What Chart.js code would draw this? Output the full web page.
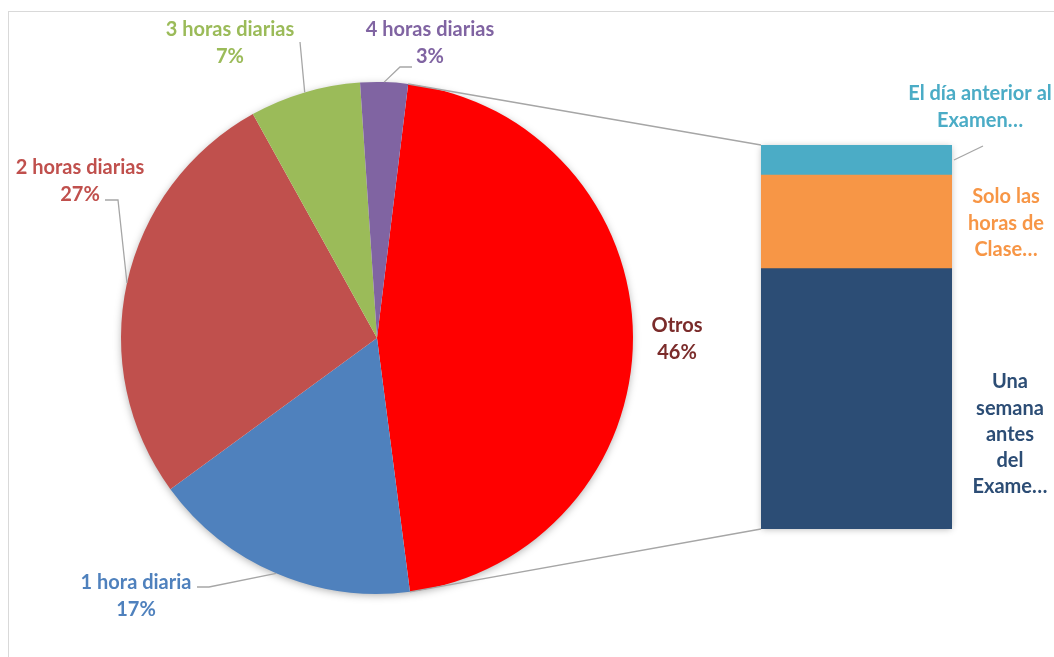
<!DOCTYPE html>
<html lang="es">
<head>
<meta charset="utf-8">
<title>Horas de estudio</title>
<script src="https://cdn.jsdelivr.net/npm/chart.js@4.4.1/dist/chart.umd.min.js"></script>
<style>
  html, body { margin: 0; padding: 0; background: #fff; }
  #stage { position: relative; width: 1054px; height: 657px; overflow: hidden; }
  #frame { position: absolute; left: 8px; top: 11px; right: -4px; bottom: -4px;
           border-top: 1px solid #d9d9d9; border-left: 1px solid #d9d9d9; }
  canvas { position: absolute; left: 0; top: 0; }
</style>
</head>
<body>
<div id="stage">
  <div id="frame"></div>
  <canvas id="pie" width="1054" height="657"></canvas>
  <canvas id="bar" width="1054" height="657"></canvas>
</div>
<script>
// porcentajes del circulo
const pieLabels = ['Otros', '1 hora diaria', '2 horas diarias', '3 horas diarias', '4 horas diarias'];
const pieValues = [46, 17, 27, 7, 3];
const pieColors = ['#FF0000', '#4F81BD', '#C0504D', '#9BBB59', '#8064A2'];
const pieTextColors = ['#7B2C2B', '#4F81BD', '#C0504D', '#9BBB59', '#8064A2'];

// desglose de "Otros", de abajo hacia arriba
const barLabels = ['Una semana antes del Examen', 'Solo las horas de Clase', 'El día anterior al Examen'];
const barValues = [31.2, 11.2, 3.6];
const barColors = ['#2C4D75', '#F79646', '#4BACC6'];
// texto recortado tal como aparece junto a la barra
const barLabelLines = [
    ['Una', 'semana', 'antes', 'del', 'Exame…'],
    ['Solo las', 'horas de', 'Clase…'],
    ['El día anterior al', 'Examen…']
];

const FONT = 'bold 20px Lato';
const LINE_H = 26.2;
const LEADER = '#A6A6A6';

function drawLines(ctx, lines, x, y, color) {
    ctx.fillStyle = color;
    ctx.font = FONT;
    ctx.textAlign = 'center';
    ctx.textBaseline = 'middle';
    lines.forEach((t, i) => ctx.fillText(t, x, y + i * LINE_H));
}

// donde va cada etiqueta del circulo y el codo de su linea guia
const pieLabelPlace = [
    { x: 677, y: 326 },
    { x: 136, y: 583, elbow: [[197, 587], [209, 587]] },
    { x: 80, y: 168, elbow: [[105, 200], [118, 200]] },
    { x: 230, y: 30, elbow: [[300, 42]] },
    { x: 430, y: 30, elbow: [[412, 67], [400, 67]] }
];

const pieDecor = {
    id: 'pieDecor',
    beforeDatasetsDraw(chart) {
        // sombra suave bajo todo el circulo
        const arc = chart.getDatasetMeta(0).data[0];
        const ctx = chart.ctx;
        ctx.save();
        ctx.shadowColor = 'rgba(0,0,0,0.35)';
        ctx.shadowBlur = 9;
        ctx.shadowOffsetY = 2;
        ctx.fillStyle = '#fff';
        ctx.beginPath();
        ctx.arc(arc.x, arc.y, arc.outerRadius - 1, 0, Math.PI * 2);
        ctx.fill();
        ctx.restore();
    },
    afterDatasetsDraw(chart) {
        const ctx = chart.ctx;
        const arcs = chart.getDatasetMeta(0).data;
        ctx.save();
        arcs.forEach((arc, i) => {
            const p = pieLabelPlace[i];
            if (p.elbow) {
                const mid = (arc.startAngle + arc.endAngle) / 2;
                ctx.strokeStyle = LEADER;
                ctx.lineWidth = 1.3;
                ctx.beginPath();
                ctx.moveTo(p.elbow[0][0], p.elbow[0][1]);
                p.elbow.slice(1).forEach(pt => ctx.lineTo(pt[0], pt[1]));
                ctx.lineTo(arc.x + arc.outerRadius * Math.cos(mid), arc.y + arc.outerRadius * Math.sin(mid));
                ctx.stroke();
            }
            drawLines(ctx, [pieLabels[i], pieValues[i] + '%'], p.x, p.y, pieTextColors[i]);
        });
        ctx.restore();
    }
};

const pieChart = new Chart(document.getElementById('pie'), {
    type: 'pie',
    data: {
        labels: pieLabels,
        datasets: [{
            data: pieValues,
            backgroundColor: pieColors,
            borderWidth: 0,
            hoverOffset: 0
        }]
    },
    options: {
        responsive: false,
        animation: false,
        rotation: 7,
        layout: { padding: { left: 121, right: 421, top: 82, bottom: 63 } },
        plugins: { legend: { display: false }, tooltip: { enabled: false } }
    },
    plugins: [pieDecor]
});

// etiquetas de la barra
const barLabelPlace = [
    { x: 1010, y: 382 },
    { x: 1006, y: 197 },
    { x: 980, y: 94, leaderTo: [983, 146] }
];

const barDecor = {
    id: 'barDecor',
    beforeDatasetsDraw(chart) {
        const top = chart.getDatasetMeta(barValues.length - 1).data[0];
        const bottom = chart.getDatasetMeta(0).data[0];
        const ctx = chart.ctx;
        ctx.save();
        ctx.shadowColor = 'rgba(0,0,0,0.3)';
        ctx.shadowBlur = 7;
        ctx.shadowOffsetY = 1;
        ctx.fillStyle = '#fff';
        ctx.fillRect(top.x - top.width / 2 + 1, top.y + 1, top.width - 2, bottom.base - top.y - 2);
        ctx.restore();
    },
    afterDatasetsDraw(chart) {
        const ctx = chart.ctx;
        const top = chart.getDatasetMeta(barValues.length - 1).data[0];
        const bottom = chart.getDatasetMeta(0).data[0];
        const left = top.x - top.width / 2;
        const right = top.x + top.width / 2;

        // lineas que unen "Otros" con la barra
        const otros = pieChart.getDatasetMeta(0).data[0];
        const sx = otros.x + otros.outerRadius * Math.cos(otros.startAngle);
        const sy = otros.y + otros.outerRadius * Math.sin(otros.startAngle);
        const ex = otros.x + otros.outerRadius * Math.cos(otros.endAngle);
        const ey = otros.y + otros.outerRadius * Math.sin(otros.endAngle);
        ctx.save();
        ctx.strokeStyle = LEADER;
        ctx.lineWidth = 1.5;
        ctx.beginPath();
        ctx.moveTo(sx, sy);
        ctx.lineTo(left, top.y);
        ctx.moveTo(ex, ey);
        ctx.lineTo(left, bottom.base);
        ctx.stroke();

        barLabelLines.forEach((lines, i) => {
            const p = barLabelPlace[i];
            if (p.leaderTo) {
                const seg = chart.getDatasetMeta(i).data[0];
                ctx.strokeStyle = LEADER;
                ctx.lineWidth = 1.3;
                ctx.beginPath();
                ctx.moveTo(right + 2, (seg.y + seg.base) / 2);
                ctx.lineTo(p.leaderTo[0], p.leaderTo[1]);
                ctx.stroke();
            }
            drawLines(ctx, lines, p.x, p.y, barColors[i]);
        });
        ctx.restore();
    }
};

new Chart(document.getElementById('bar'), {
    type: 'bar',
    data: {
        labels: ['Otros'],
        datasets: barValues.map((v, i) => ({
            label: barLabels[i],
            data: [v],
            backgroundColor: barColors[i],
            borderWidth: 0,
            barPercentage: 1,
            categoryPercentage: 1
        }))
    },
    options: {
        responsive: false,
        animation: false,
        layout: { padding: { left: 761, right: 102, top: 145, bottom: 128 } },
        scales: {
            x: { display: false, stacked: true },
            y: { display: false, stacked: true, min: 0, max: barValues.reduce((a, b) => a + b, 0) }
        },
        plugins: { legend: { display: false }, tooltip: { enabled: false } }
    },
    plugins: [barDecor]
});
</script>
</body>
</html>
